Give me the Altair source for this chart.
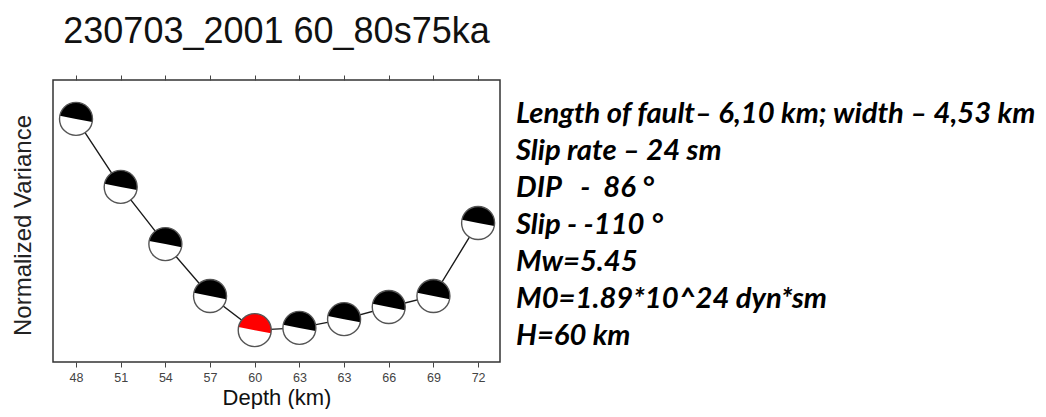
import json
import altair as alt
import pandas as pd

# ---- data ----
depth_labels = ["48", "51", "54", "57", "60", "63", "63", "66", "69", "72"]
variance = [0.862, 0.621, 0.418, 0.234, 0.113, 0.121, 0.152, 0.195, 0.234, 0.493]
ball_colors = ["#000000", "#000000", "#000000", "#000000", "#ff0000",
               "#000000", "#000000", "#000000", "#000000", "#000000"]
title_text = "230703_2001 60_80s75ka"
NB = "\u00a0"
HS = "\u200a"
info_lines = [
    "Length of fault\u2013 6,10 km; width \u2013 4,53 km",
    HS + "Slip rate \u2013 24 sm",
    HS + "DIP" + NB * 3 + "-" + NB * 2 + "86 \u00b0",
    HS + "Slip - -110 \u00b0",
    HS + "Mw=5.45",
    HS + "M0=1.89*10^24 dyn*sm",
    HS + "H=60 km",
]

idx = list(range(len(depth_labels)))
df = pd.DataFrame({"idx": idx, "depth": depth_labels,
                   "variance": variance, "color": ball_colors})

W, H = 447, 282
R = 16.5
TAU = 6.283185307179586
tilt = 11 / 360 * TAU
th1 = 0.75 * TAU + tilt
th2 = 1.25 * TAU + tilt

xscale = alt.Scale(domain=[-0.515, 9.49], nice=False, zero=False)
yscale = alt.Scale(domain=[0, 1], nice=False, zero=False)
label_expr = json.dumps(depth_labels) + "[datum.value]"

FONT = "Liberation Sans"

x_bottom = alt.X("idx:Q", scale=xscale,
                 axis=alt.Axis(values=idx, labelExpr=label_expr, title="Depth (km)",
                               orient="bottom", grid=False, domain=False,
                               ticks=True, tickSize=5, tickColor="#444", tickWidth=1,
                               labelFont=FONT, labelFontSize=12.5, labelColor="#444",
                               labelPadding=4, titleFont=FONT, titleFontSize=22,
                               titleFontWeight="normal", titleColor="#111",
                               titleBaseline="alphabetic", titleY=42))
x_top = alt.X("idx:Q", scale=xscale,
              axis=alt.Axis(values=idx, orient="top", labels=False, title=None,
                            grid=False, domain=False, ticks=True, tickSize=5,
                            tickColor="#444", tickWidth=1))
x_none = alt.X("idx:Q", scale=xscale, axis=None)

y_main = alt.Y("variance:Q", scale=yscale,
               axis=alt.Axis(title="Normalized Variance", labels=False, ticks=False,
                             domain=False, grid=False, titleFont=FONT,
                             titleFontSize=24, titleFontWeight="normal",
                             titleColor="#222", titleX=-30, titleY=145,
                             titleBaseline="middle", titleAlign="center",
                             titleAngle=-90))
y_none = alt.Y("variance:Q", scale=yscale, axis=None)

base = alt.Chart(df)

line = base.mark_line(color="#1a1a1a", strokeWidth=1.4).encode(x=x_bottom, y=y_main)
top_ticks = base.mark_point(opacity=0).encode(x=x_top, y=y_none)
white = base.mark_arc(radius=R, theta=0, theta2=TAU, fill="white").encode(x=x_none, y=y_none)
half = base.mark_arc(radius=R, theta=th1, theta2=th2).encode(
    x=x_none, y=y_none, fill=alt.Fill("color:N", scale=None))
outline = base.mark_arc(radius=R, theta=0, theta2=TAU, fillOpacity=0,
                        stroke="#555", strokeWidth=1.4).encode(x=x_none, y=y_none)

one = pd.DataFrame({"k": [0]})
title_mark = alt.Chart(one).mark_text(
    align="center", baseline="alphabetic", font=FONT, fontSize=36, color="#111"
).encode(x=alt.value(W / 2), y=alt.value(-37), text=alt.value(title_text))

info = alt.Chart(one).mark_text(
    align="left", baseline="alphabetic", font="Lato", fontStyle="italic",
    fontWeight="bold", fontSize=29.2, lineHeight=37, color="#000"
).encode(x=alt.value(463), y=alt.value(43), text=alt.value(info_lines))

chart = alt.layer(line, top_ticks, white, half, outline, title_mark, info).resolve_axis(
    x="independent", y="independent"
).properties(
    width=W, height=H,
    autosize=alt.AutoSizeParams(type="none"),
    padding={"left": 45, "top": 72, "right": 538, "bottom": 47},
).configure_view(stroke="#333", strokeWidth=1.5)

chart.save("out.html", embed_options={"renderer": "svg", "actions": False})
